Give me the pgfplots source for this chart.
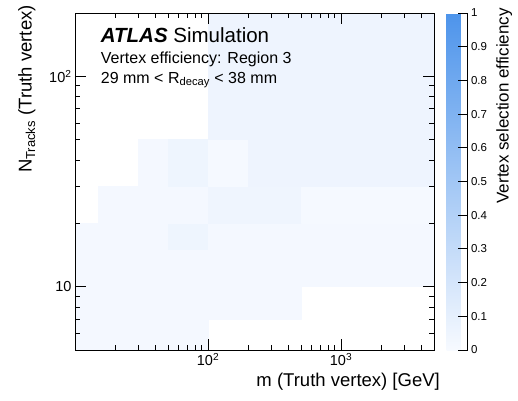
\documentclass[border=0pt]{standalone}
\usepackage{fontspec}
\setmainfont{Liberation Sans}
\usepackage{pgfplots}
\pgfplotsset{compat=1.18}
\usepackage{pgfplotstable}
\usepgfplotslibrary{patchplots}

% each cell: its four corners in order
\pgfplotstableread{
x y c
10 5 0.018
100 5 0.018
100 15 0.018
10 15 0.018
100 7 0.018
500 7 0.018
500 15 0.018
100 15 0.018
500 10 0.018
5000 10 0.018
5000 15 0.018
500 15 0.018
10 15 0.018
50 15 0.018
50 20 0.018
10 20 0.018
50 15 0.05
100 15 0.05
100 20 0.05
50 20 0.05
100 15 0.018
5000 15 0.018
5000 20 0.018
100 20 0.018
15 20 0.018
100 20 0.018
100 30 0.018
15 30 0.018
100 20 0.045
500 20 0.045
500 30 0.045
100 30 0.045
500 20 0.012
5000 20 0.012
5000 30 0.012
500 30 0.012
30 30 0.02
50 30 0.02
50 50 0.02
30 50 0.02
50 30 0.05
100 30 0.05
100 50 0.05
50 50 0.05
100 30 0.01
200 30 0.01
200 50 0.01
100 50 0.01
200 30 0.055
5000 30 0.055
5000 200 0.055
200 200 0.055
100 50 0.055
200 50 0.055
200 200 0.055
100 200 0.055
}\cells

\newcommand{\tickfont}{\fontsize{14.5}{14.5}\selectfont}
\newcommand{\cbfont}{\fontsize{11.5}{11.5}\selectfont}
\newcommand{\titlefont}{\fontsize{18.5}{18.5}\selectfont}

\begin{document}
\begin{tikzpicture}
\begin{axis}[
  scale only axis,
  width=359pt, height=337pt,
  xmode=log, ymode=log,
  xmin=10, xmax=5000, ymin=5, ymax=200,
  clip=false,
  axis on top,
  axis line style={line width=1pt, black},
  tick align=inside,
  major tick length=11pt, minor tick length=5.5pt,
  every tick/.style={line width=0.9pt, black},
  xtick={100,1000},
  xticklabels={10\textsuperscript{2},10\textsuperscript{3}},
  minor xtick={20,30,40,50,60,70,80,90,200,300,400,500,600,700,800,900,2000,3000,4000},
  ytick={10,100},
  yticklabels={10,10\textsuperscript{2}},
  minor ytick={6,7,8,9,20,30,40,50,60,70,80,90},
  tick label style={font=\tickfont},
  colormap={eff}{rgb255(0)=(247,250,255) rgb255(1)=(77,148,235)},
  point meta min=0, point meta max=1,
  colorbar,
  colorbar style={
    at={(parent axis.north east)}, anchor=north west, xshift=4pt,
    scale only axis,
    width=21pt, height=337pt,
    axis x line=none,
    axis y line*=right,
    axis line style={line width=1pt, black},
    tick align=inside,
    major tick length=10pt,
    every tick/.style={line width=0.9pt, black},
    ytick={0,0.1,0.2,0.3,0.4,0.5,0.6,0.7,0.8,0.9,1},
    yticklabel style={font=\cbfont, /pgf/number format/fixed,
      /pgf/number format/precision=1, /pgf/number format/assume math mode=true},
  },
]
\addplot[patch, patch type=rectangle, shader=flat, point meta=explicit]
  table[x=x, y=y, meta=c] {\cells};

\node[anchor=base west, inner sep=0pt] at (rel axis cs:0.0716,0.912)
  {\fontsize{20.5}{20.5}\selectfont\textbf{\textit{ATLAS}} Simulation};
\node[anchor=base west, inner sep=0pt] at (rel axis cs:0.0716,0.8507)
  {\fontsize{16}{16}\selectfont Vertex efficiency: Region 3};
\node[anchor=base west, inner sep=0pt] at (rel axis cs:0.0716,0.7914)
  {\fontsize{16}{16}\selectfont 29 mm < R\textsubscript{decay} < 38 mm};

\node[anchor=north east, inner sep=0pt] at (rel axis cs:1.0167,-0.069)
  {\titlefont m (Truth vertex) [GeV]};
\node[anchor=north east, rotate=90, inner sep=0pt] at (rel axis cs:-0.1588,1.0237)
  {\titlefont N\textsubscript{Tracks} (Truth vertex)};
\node[anchor=north east, rotate=90, inner sep=0pt] at (rel axis cs:1.1727,1.0148)
  {\fontsize{17}{17}\selectfont Vertex selection efficiency};
\end{axis}
\pgfresetboundingbox
\path (-75pt,-50pt) rectangle (443pt,350pt);
\end{tikzpicture}
\end{document}
